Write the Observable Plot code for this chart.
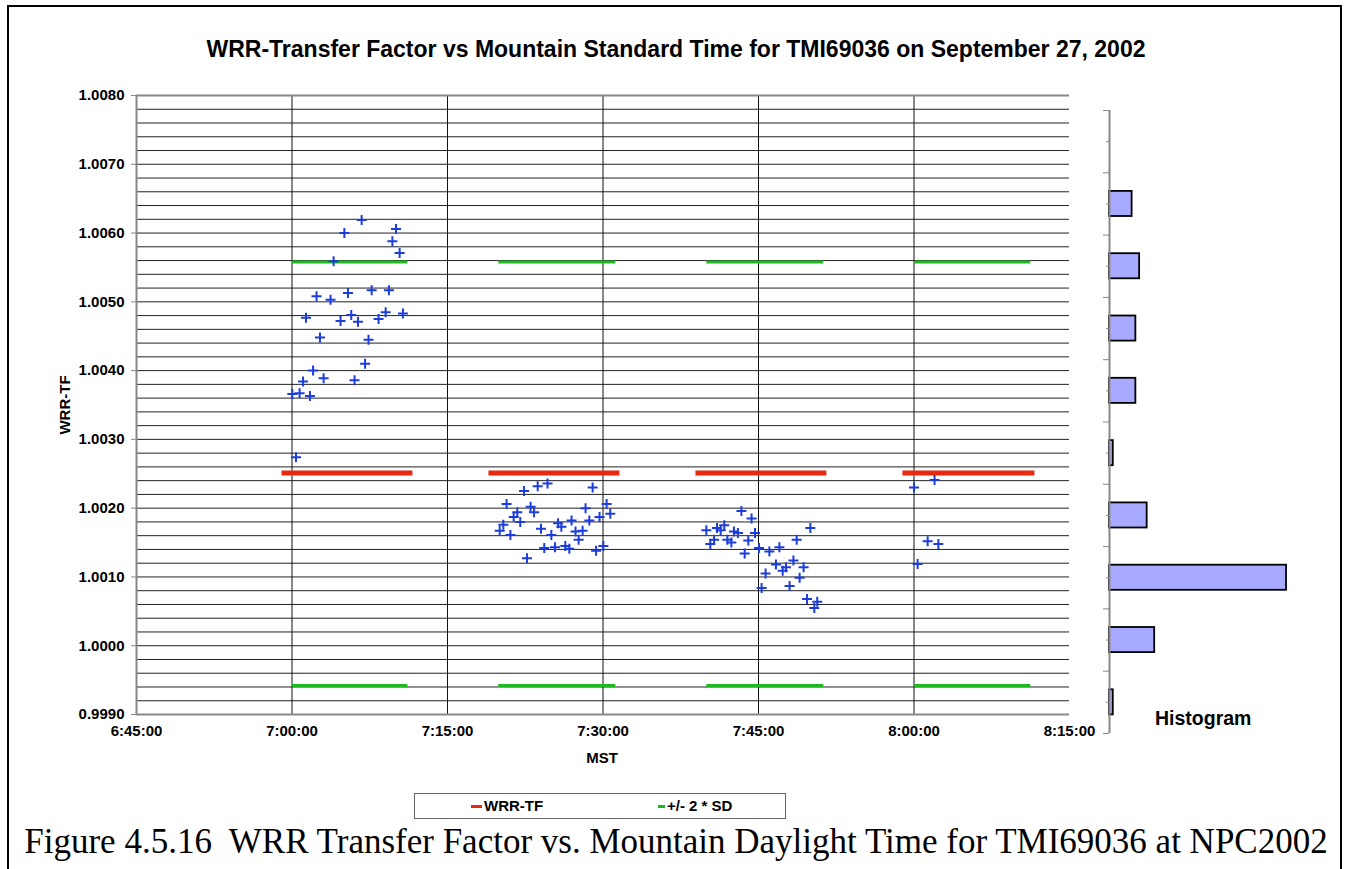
<!DOCTYPE html>
<html><head><meta charset="utf-8">
<script src="https://cdn.jsdelivr.net/npm/d3@7"></script>
<script src="https://cdn.jsdelivr.net/npm/@observablehq/plot@0.6"></script>
<style>
body{margin:0;background:#fff;}
#fig{position:relative;width:1348px;height:869px;overflow:hidden;font-family:"Liberation Sans",Arial,sans-serif;color:#000;}
.frame{position:absolute;left:7px;top:5px;width:1331px;height:900px;border:2px solid #000;}
.abs{position:absolute;white-space:nowrap;font-weight:bold;}
#main{position:absolute;left:0;top:0;}
#hist{position:absolute;left:1060px;top:0;}
.legend{position:absolute;left:414px;top:793px;width:370px;height:24px;border:1.5px solid #666;}
.sw{position:absolute;height:3px;}
.caption{position:absolute;left:0;width:1352px;text-align:center;top:824px;font-family:"Liberation Serif","Times New Roman",serif;font-size:35px;white-space:pre;line-height:35px;}
</style></head><body>
<div id="fig">
  <div class="frame"></div>
  <div id="main"></div>
  <div id="hist"></div>
  <div class="abs" id="title" style="left:0;width:1352px;text-align:center;top:38px;font-size:23px;line-height:23px;"></div>
  <div class="abs" id="ylab" style="left:64px;top:405px;font-size:15px;transform:translate(-50%,-50%) rotate(-90deg);"></div>
  <div class="abs" id="xlab" style="left:602px;top:757px;font-size:15px;transform:translate(-50%,-50%);"></div>
  <div class="abs" id="histlab" style="left:1155px;top:709px;font-size:19.5px;line-height:19.5px;"></div>
  <div class="legend">
    <div class="sw" id="sw1" style="left:56px;top:11px;width:11px;"></div>
    <div class="abs" id="lg1" style="left:69px;top:4px;font-size:15px;line-height:15px;"></div>
    <div class="sw" id="sw2" style="left:243px;top:11px;width:7px;"></div>
    <div class="abs" id="lg2" style="left:252px;top:4px;font-size:15px;line-height:15px;"></div>
  </div>
  <div class="caption" id="caption"></div>
</div>
<script>
// ---------- text ----------
const titleText = "WRR-Transfer Factor vs Mountain Standard Time for TMI69036 on September 27, 2002";
const yLabel = "WRR-TF";
const xLabel = "MST";
const histLabel = "Histogram";
const legendLabels = ["WRR-TF", "+/- 2 * SD"];
const captionText = "Figure 4.5.16  WRR Transfer Factor vs. Mountain Daylight Time for TMI69036 at NPC2002";

// ---------- axes ----------
const yTickValues = [0.9990, 1.0000, 1.0010, 1.0020, 1.0030, 1.0040, 1.0050, 1.0060, 1.0070, 1.0080];
const xTickLabels = ["6:45:00", "7:00:00", "7:15:00", "7:30:00", "7:45:00", "8:00:00", "8:15:00"];

// ---------- measurements (MST, WRR-TF) ----------
const session1Times = ["7:00:02","7:00:23","7:00:44","7:01:04","7:01:21","7:01:44","7:02:02","7:02:22","7:02:42","7:03:03","7:03:43","7:04:01","7:04:41","7:05:03","7:05:24","7:05:43","7:06:02","7:06:22","7:06:43","7:07:03","7:07:23","7:07:41","7:08:21","7:09:02","7:09:21","7:09:41","7:10:02","7:10:23","7:10:42"];
const session1TF = [1.00366,1.00274,1.00367,1.00384,1.00477,1.00363,1.00400,1.00508,1.00448,1.00389,1.00503,1.00559,1.00472,1.00600,1.00513,1.00481,1.00386,1.00471,1.00619,1.00410,1.00445,1.00517,1.00475,1.00485,1.00517,1.00588,1.00606,1.00571,1.00483];

const session2Times = ["7:20:02","7:20:23","7:20:42","7:21:04","7:21:23","7:21:44","7:22:01","7:22:23","7:22:40","7:23:01","7:23:21","7:23:42","7:24:01","7:24:20","7:24:39","7:25:01","7:25:22","7:25:40","7:25:59","7:26:22","7:26:45","7:26:58","7:27:21","7:27:39","7:28:02","7:28:19","7:28:41","7:29:00","7:29:20","7:29:40","7:30:02","7:30:21","7:30:42"];
const session2TF = [1.00167,1.00176,1.00206,1.00161,1.00187,1.00194,1.00180,1.00225,1.00127,1.00202,1.00194,1.00232,1.00170,1.00142,1.00236,1.00161,1.00143,1.00178,1.00173,1.00145,1.00141,1.00182,1.00166,1.00154,1.00167,1.00200,1.00182,1.00230,1.00138,1.00187,1.00145,1.00206,1.00192];

const session3Times = ["7:39:58","7:40:21","7:40:43","7:41:00","7:41:21","7:41:42","7:42:00","7:42:23","7:42:38","7:43:01","7:43:21","7:43:40","7:44:01","7:44:20","7:44:40","7:45:03","7:45:18","7:45:41","7:46:03","7:46:41","7:47:01","7:47:20","7:47:39","7:48:00","7:48:22","7:48:41","7:48:58","7:49:21","7:49:41","7:50:00","7:50:23","7:50:40"];
const session3TF = [1.00168,1.00148,1.00154,1.00171,1.00168,1.00175,1.00154,1.00150,1.00166,1.00164,1.00196,1.00134,1.00153,1.00185,1.00164,1.00142,1.00084,1.00105,1.00137,1.00118,1.00143,1.00109,1.00114,1.00087,1.00124,1.00154,1.00099,1.00114,1.00068,1.00171,1.00055,1.00064];

const session4Times = ["8:00:00","8:00:21","8:01:19","8:01:59","8:02:21"];
const session4TF = [1.00230,1.00119,1.00152,1.00241,1.00148];

// ---------- mean and +/- 2 SD lines ----------
const meanTF = 1.00251;
const upperTF = 1.00558;
const lowerTF = 0.99942;
const meanStart = ["6:58:59","7:18:57","7:38:55","7:58:53"];
const meanEnd   = ["7:11:37","7:31:35","7:51:33","8:11:37"];
const sdStart   = ["7:00:00","7:19:54","7:39:58","8:00:02"];
const sdEnd     = ["7:11:08","7:31:11","7:51:15","8:11:13"];

// ---------- histogram (counts per bin, bottom bin first) ----------
const histCounts = [1, 12, 47, 10, 1, 7, 7, 8, 6, 0];

// ---------- colours ----------
const RED = "#e8290f", GREEN = "#20b820", BLUE = "#1c3ddc", BAR = "#a8aaff";

// ---------- helpers ----------
const toSec = s => { const [h, m, ss] = s.split(":").map(Number); return h * 3600 + m * 60 + ss; };
const fmtTime = v => { const h = Math.floor(v / 3600), m = Math.floor((v % 3600) / 60), s = Math.round(v % 60);
  return `${h}:${String(m).padStart(2, "0")}:${String(s).padStart(2, "0")}`; };

const points = [[session1Times, session1TF], [session2Times, session2TF], [session3Times, session3TF], [session4Times, session4TF]]
  .flatMap(([ts, vs]) => ts.map((t, i) => ({t: toSec(t), v: vs[i]})));
const meanSegs = meanStart.map((s, i) => ({a: toSec(s), b: toSec(meanEnd[i]), v: meanTF}));
const sdSegs = sdStart.flatMap((s, i) => [upperTF, lowerTF].map(v => ({a: toSec(s), b: toSec(sdEnd[i]), v})));

const xTicks = xTickLabels.map(toSec);
const yMin = yTickValues[0], yMax = yTickValues[yTickValues.length - 1];
const gridY = d3.range(0, 46).map(i => +(yMin + i * 0.0002).toFixed(4));
const gridX = xTicks.slice(1, -1);

const plusSymbol = {
  draw(context, size) {
    const r = Math.sqrt(size / Math.PI);
    context.moveTo(-r, 0); context.lineTo(r, 0);
    context.moveTo(0, -r); context.lineTo(0, r);
  }
};

const fontStyle = {fontFamily: "Liberation Sans, Arial, sans-serif", fontSize: "15px", fontWeight: "bold", color: "#000", background: "transparent", overflow: "visible"};

const main = Plot.plot({
  width: 1100, height: 770,
  marginLeft: 136, marginRight: 31, marginTop: 95, marginBottom: 56,
  style: fontStyle,
  x: {domain: [xTicks[0], xTicks[xTicks.length - 1]]},
  y: {domain: [yMin, yMax]},
  marks: [
    Plot.ruleY(gridY, {stroke: "#222", strokeWidth: 1}),
    Plot.ruleX(gridX, {stroke: "#111", strokeWidth: 1}),
    Plot.ruleY([yMax], {stroke: "#888", strokeWidth: 2}),
    Plot.ruleY([yMin], {stroke: "#888", strokeWidth: 2}),
    Plot.ruleX([xTicks[0]], {stroke: "#888", strokeWidth: 2}),
    Plot.axisY({ticks: yTickValues, tickFormat: d => d.toFixed(4), tickSize: 5, tickPadding: 7, stroke: "#888", label: null}),
    Plot.axisX({ticks: xTicks, tickFormat: fmtTime, tickSize: 0, tickPadding: 11, label: null}),
    Plot.link(meanSegs, {x1: "a", x2: "b", y1: "v", y2: "v", stroke: RED, strokeWidth: 5}),
    Plot.link(sdSegs, {x1: "a", x2: "b", y1: "v", y2: "v", stroke: GREEN, strokeWidth: 3}),
    Plot.dot(points, {x: "t", y: "v", symbol: plusSymbol, r: 5, stroke: BLUE, strokeWidth: 2, fill: "none"})
  ]
});
document.getElementById("main").append(main);

const histBins = histCounts.map((c, i) => ({lo: i, hi: i + 1, count: c})).filter(d => d.count > 0);
const hist = Plot.plot({
  width: 288, height: 770,
  marginLeft: 49, marginRight: 13, marginTop: 110, marginBottom: 37,
  style: fontStyle,
  x: {domain: [0, 60], axis: null},
  y: {domain: [0, histCounts.length], axis: null},
  marks: [
    Plot.rect(histBins, {x1: () => 0, x2: "count", y1: "lo", y2: "hi", insetTop: 18.6, insetBottom: 18.6, fill: BAR, stroke: "#000", strokeWidth: 1.8}),
    Plot.ruleX([0], {stroke: "#888", strokeWidth: 2}),
    Plot.axisY({ticks: d3.range(0, histCounts.length + 1), tickFormat: () => "", tickSize: 6, stroke: "#888", label: null}),
    Plot.axisY({ticks: d3.range(0.5, histCounts.length, 1), tickFormat: () => "", tickSize: 3, stroke: "#888", label: null})
  ]
});
document.getElementById("hist").append(hist);

document.getElementById("title").textContent = titleText;
document.getElementById("ylab").textContent = yLabel;
document.getElementById("xlab").textContent = xLabel;
document.getElementById("histlab").textContent = histLabel;
document.getElementById("lg1").textContent = legendLabels[0];
document.getElementById("lg2").textContent = legendLabels[1];
document.getElementById("sw1").style.background = RED;
document.getElementById("sw2").style.background = GREEN;
document.getElementById("caption").textContent = captionText;
</script>
</body></html>
